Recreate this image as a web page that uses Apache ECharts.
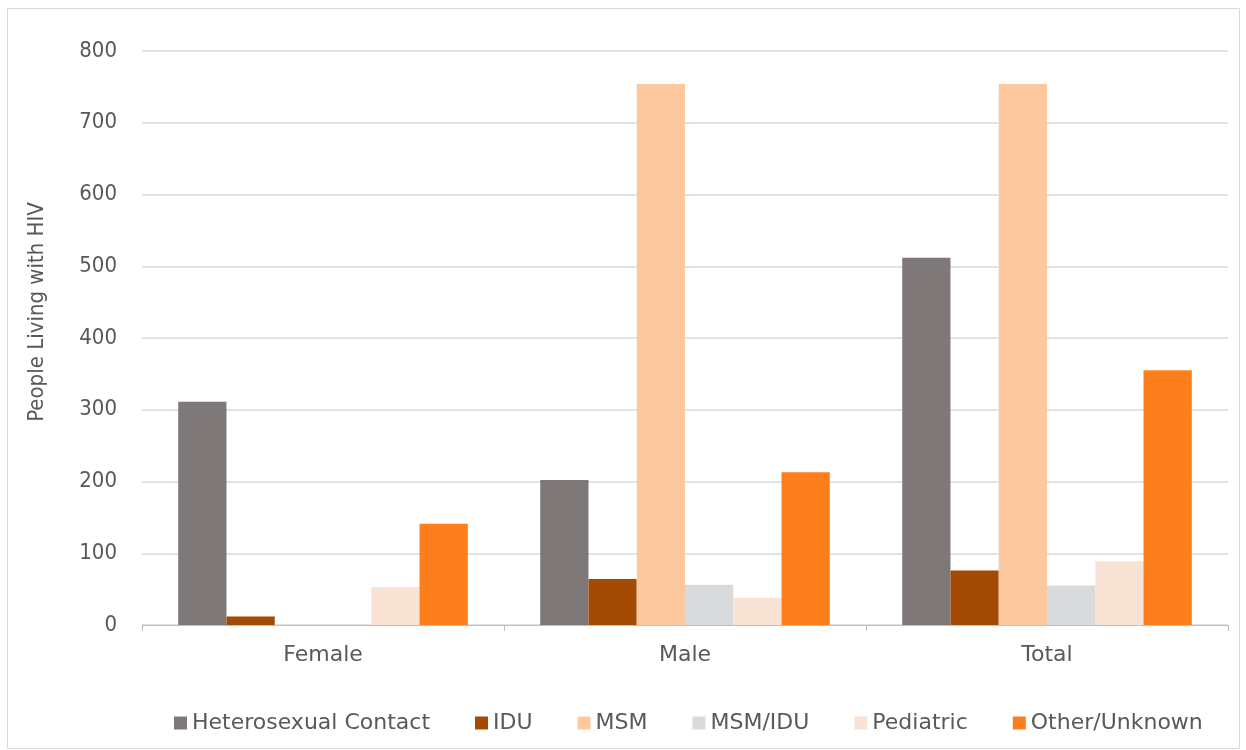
<!DOCTYPE html>
<html>
<head>
<meta charset="utf-8">
<script src="https://cdn.jsdelivr.net/npm/echarts@6/dist/echarts.min.js"></script>
<style>
html,body{margin:0;padding:0;background:#fff;}
#chart{width:1246px;height:750px;}
</style>
</head>
<body>
<div id="chart"></div>
<script>
var categories = ['Female', 'Male', 'Total'];
var seriesNames = ['Heterosexual Contact', 'IDU', 'MSM', 'MSM/IDU', 'Pediatric', 'Other/Unknown'];
var heterosexual = [311, 202, 512];
var idu = [12, 64, 76];
var msm = [0, 754, 754];
var msmIdu = [0, 56, 55];
var pediatric = [53, 38, 89];
var otherUnknown = [141, 213, 355];
var yTicks = [0, 100, 200, 300, 400, 500, 600, 700, 800];
var yAxisTitle = 'People Living with HIV';
var colors = ['#7f7879', '#a34a04', '#fec89f', '#d9dadb', '#f9e3d4', '#fd7e1c'];
var values = [heterosexual, idu, msm, msmIdu, pediatric, otherUnknown];

var chart = echarts.init(document.getElementById('chart'));
var condensed = '"DejaVu Sans Condensed", "Open Sans", sans-serif';
var regular = '"DejaVu Sans", "Open Sans", sans-serif';
chart.setOption({
  animation: false,
  color: colors,
  textStyle: {fontFamily: regular},
  graphic: [{
    type: 'rect', shape: {x: 7.5, y: 8.5, width: 1232, height: 740},
    style: {fill: 'none', stroke: '#d9d9d9', lineWidth: 1}, silent: true
  }, {
    type: 'text', x: 37, y: 312, rotation: Math.PI / 2, silent: true,
    style: {text: yAxisTitle, font: '22px "DejaVu Sans Condensed"', fill: '#595959',
      align: 'center', verticalAlign: 'middle'}
  }],
  grid: {left: 142, right: 18, top: 51, bottom: 125},
  legend: {
    top: 712, left: 174, padding: 0,
    itemWidth: 13, itemHeight: 13, itemGap: 45,
    icon: 'rect',
    textStyle: {fontFamily: regular, fontSize: 22, color: '#595959'},
    data: seriesNames
  },
  xAxis: {
    type: 'category', data: categories,
    axisLine: {lineStyle: {color: '#bfbfbf', width: 1}},
    axisTick: {show: true, alignWithLabel: false, length: 6, lineStyle: {color: '#bfbfbf'}},
    axisLabel: {fontFamily: regular, fontSize: 22, color: '#595959', margin: 19}
  },
  yAxis: {
    type: 'value', min: yTicks[0], max: yTicks[yTicks.length - 1], interval: 100,
    axisLine: {show: false}, axisTick: {show: false},
    axisLabel: {fontFamily: condensed, fontSize: 22, color: '#595959', margin: 25},
    splitLine: {lineStyle: {color: '#d9d9d9', width: 1.5}}
  },
  series: seriesNames.map(function (n, i) {
    return {
      name: n, type: 'bar', data: values[i],
      barGap: '0%', barCategoryGap: '20%',
      itemStyle: {color: colors[i]}
    };
  })
});
</script>
</body>
</html>
